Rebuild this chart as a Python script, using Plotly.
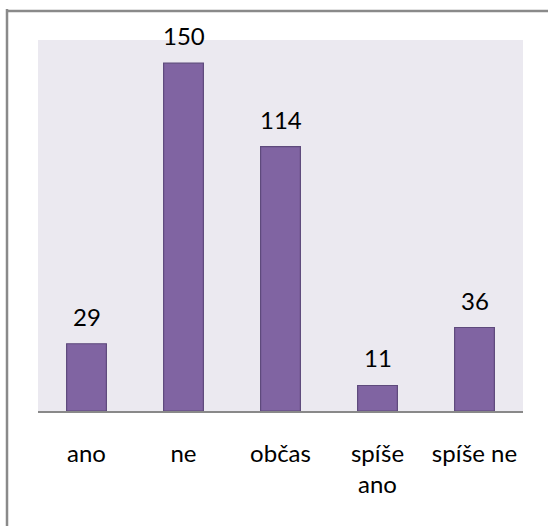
import plotly.graph_objects as go

categories = ["ano", "ne", "občas", "spíše<br>ano", "spíše ne"]
values = [29, 150, 114, 11, 36]

BAR_FILL = "#8064A2"
BAR_EDGE = "#5E4A7C"
PLOT_BG = "#EBE9F0"
FONT = "Lato, Open Sans, sans-serif"
FONT_SIZE = 24

fig = go.Figure(
    go.Bar(
        x=categories,
        y=values,
        marker=dict(color=BAR_FILL, line=dict(color=BAR_EDGE, width=1.2)),
        hoverinfo="x+y",
    )
)

# value labels above each bar
for c, v in zip(categories, values):
    fig.add_annotation(
        x=c, y=v, text=str(v), showarrow=False,
        yanchor="bottom", yshift=11,
        font=dict(family=FONT, size=FONT_SIZE, color="#000000"),
    )

# frame around the chart (left and top edges)
fig.add_shape(type="line", xref="paper", yref="paper",
              x0=-0.0639, x1=-0.0639, y0=1.0835, y1=-0.5,
              line=dict(color="#8A8A8A", width=2.5))
fig.add_shape(type="line", xref="paper", yref="paper",
              x0=-0.0639, x1=1.2, y0=1.0784, y1=1.0784,
              line=dict(color="#8A8A8A", width=2.5))

fig.update_layout(
    width=548, height=526,
    margin=dict(l=38, r=25, t=40, b=115),
    paper_bgcolor="#FFFFFF",
    plot_bgcolor=PLOT_BG,
    bargap=0.59,
    showlegend=False,
    font=dict(family=FONT, size=FONT_SIZE, color="#000000"),
    xaxis=dict(
        showline=True, linecolor="#898989", linewidth=2,
        ticks="", showgrid=False, ticklabelstandoff=20,
        tickfont=dict(family=FONT, size=FONT_SIZE, color="#000000"),
    ),
    yaxis=dict(
        range=[0, 160], showgrid=False, showticklabels=False,
        zeroline=False, showline=False, ticks="",
    ),
)

fig.write_html("out.html")
